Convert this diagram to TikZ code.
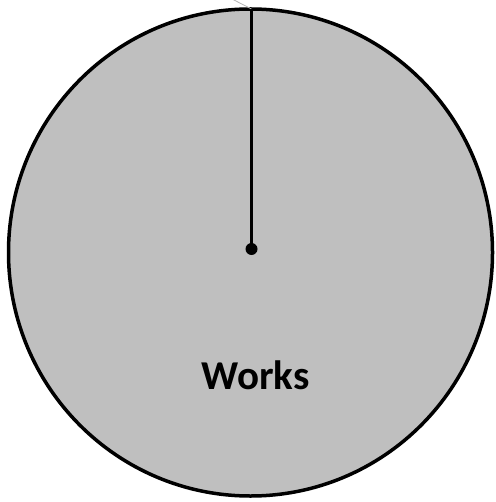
\documentclass[tikz,border=0pt]{standalone}
\usetikzlibrary{shapes.geometric}
\usepackage{fontspec}
\setmainfont{Carlito}
\begin{document}
\begin{tikzpicture}[x=1pt,y=-1pt]
\tikzset{face/.style={draw=black,fill=black!25,line width=3.5pt},
hand/.style={draw=black,line width=3.5pt},
thinline/.style={draw=black!30,line width=0.8pt}}
\useasboundingbox (0,0) rectangle (495,502);
\node[face,ellipse,minimum width=484pt,minimum height=487pt,inner sep=0pt] (clock) at (250.5,252.5) {};
\coordinate (center) at (251.5,249);
\coordinate (top) at (251.5,9);
\coordinate (tail) at (232,-1);
\draw[thinline] (top) -- (tail);
\draw[hand] (center) -- (top);
\fill[black] (center) circle (6pt);
\node[font=\bfseries\fontsize{41}{45}\selectfont] (lbl) at (255.5,375) {Works};
\end{tikzpicture}
\end{document}
